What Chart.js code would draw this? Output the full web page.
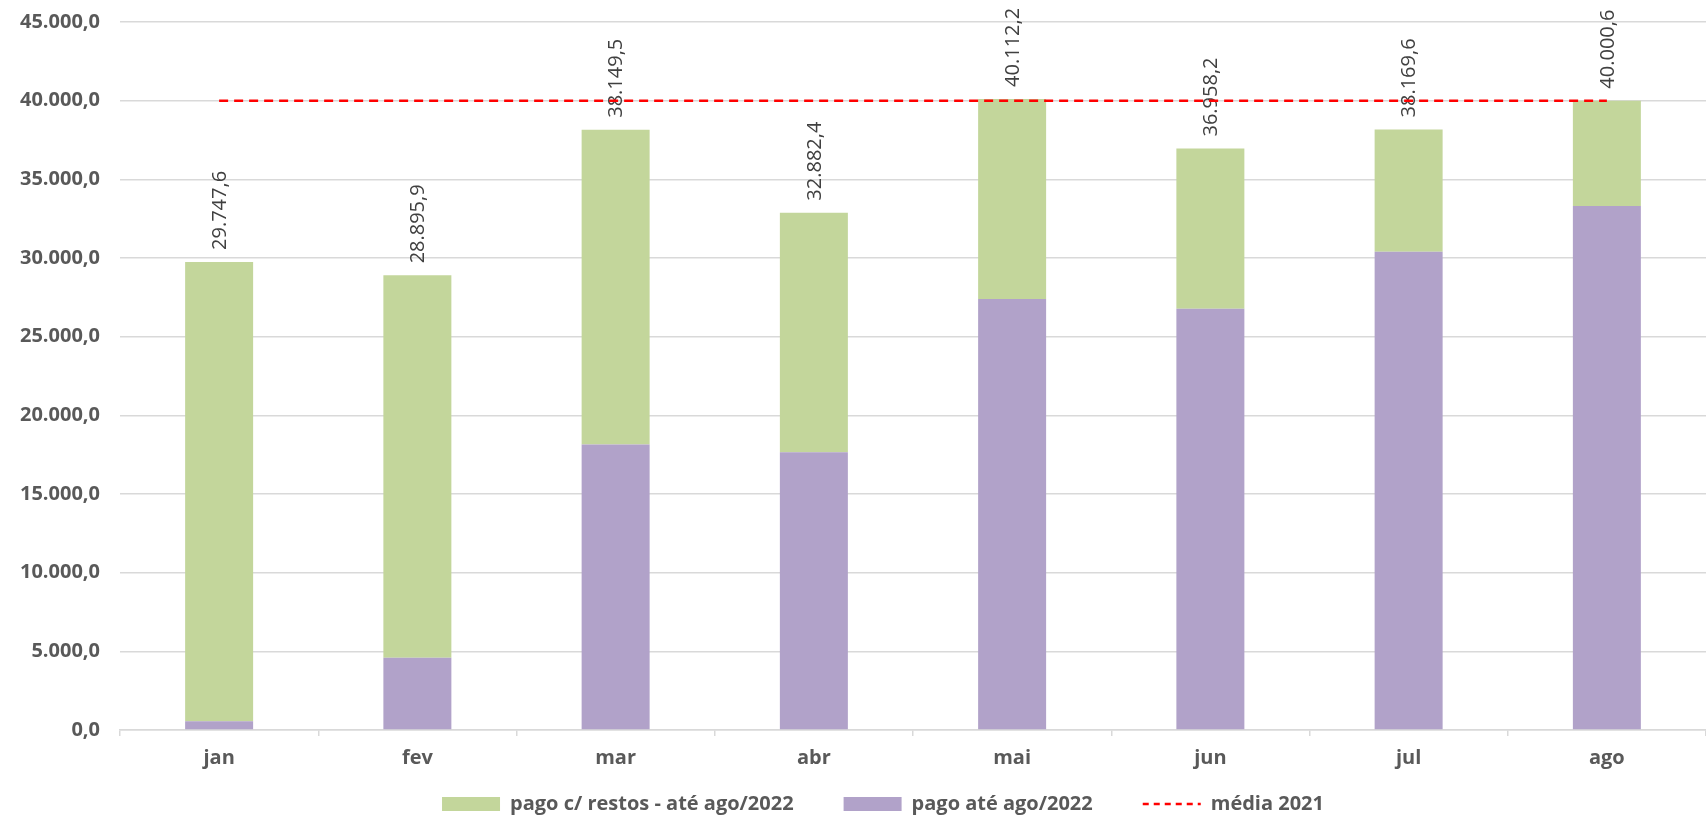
<!DOCTYPE html>
<html lang="pt-br">
<head>
	<meta charset="UTF-8">
	<title>Pago 2022</title>
	<script src="https://cdn.jsdelivr.net/npm/chart.js"></script>
	<style>
		body { margin: 0; background: #fff; }
		.grafico { width: 1706px; height: 824px; position: relative; }
	</style>
</head>
<body>
	<div class="grafico">
		<canvas id="graficoPago"></canvas>
	</div>
	<script>
		// valores
		var meses = ['jan', 'fev', 'mar', 'abr', 'mai', 'jun', 'jul', 'ago'];
		var pagoAte = [560, 4600, 18150, 17650, 27400, 26770, 30400, 33300];
		var pagoRestos = [29187.6, 24295.9, 19999.5, 15232.4, 12712.2, 10188.2, 7769.6, 6700.6];
		var totais = [29747.6, 28895.9, 38149.5, 32882.4, 40112.2, 36958.2, 38169.6, 40000.6];
		var media2021 = [40000, 40000, 40000, 40000, 40000, 40000, 40000, 40000];
		var ticksY = [0, 5000, 10000, 15000, 20000, 25000, 30000, 35000, 40000, 45000];

		Chart.defaults.font.family = "'Open Sans', sans-serif";

		function formatar(v) {
			var partes = Number(v).toFixed(1).split('.');
			var inteiro = partes[0].replace(/\B(?=(\d{3})+(?!\d))/g, '.');
			return inteiro + ',' + partes[1];
		}

		// rótulos de total em cima das barras
		var rotulosTotais = {
			id: 'rotulosTotais',
			beforeDatasetsDraw: function (chart) {
				var ctx = chart.ctx;
				var x = chart.scales.x;
				var y = chart.scales.y;
				ctx.save();
				ctx.fillStyle = '#404040';
				ctx.font = "20px 'Open Sans', sans-serif";
				ctx.textAlign = 'left';
				ctx.textBaseline = 'middle';
				for (var i = 0; i < totais.length; i++) {
					ctx.save();
					ctx.translate(x.getPixelForValue(i) + 1, y.getPixelForValue(totais[i]) - 12);
					ctx.rotate(-Math.PI / 2);
					ctx.fillText(formatar(totais[i]), 0, 0);
					ctx.restore();
				}
				ctx.restore();
			}
		};

		var ordemLegenda = { 1: 0, 0: 1, 2: 2 };

		var ctx = document.getElementById('graficoPago').getContext('2d');
		var graficoPago = new Chart(ctx, {
			type: 'bar',
			data: {
				labels: meses,
				datasets: [{
					label: 'pago até ago/2022',
					data: pagoAte,
					backgroundColor: '#B1A2C9',
					stack: 'pago',
					order: 1
				}, {
					label: 'pago c/ restos - até ago/2022',
					data: pagoRestos,
					backgroundColor: '#C3D69B',
					stack: 'pago',
					order: 1
				}, {
					type: 'line',
					label: 'média 2021',
					data: media2021,
					borderColor: '#FF0000',
					backgroundColor: '#FF0000',
					borderWidth: 2.5,
					borderDash: [9, 6],
					pointRadius: 0,
					fill: false,
					order: 0
				}]
			},
			options: {
				responsive: true,
				maintainAspectRatio: false,
				animation: false,
				layout: { padding: { top: 22, right: 0, left: 0, bottom: 0 } },
				datasets: {
					bar: { categoryPercentage: 1, barPercentage: 0.343 }
				},
				scales: {
					x: {
						stacked: true,
						afterFit: function (scale) { scale.height = 54; },
						grid: { display: true, drawOnChartArea: false, offset: true, tickLength: 6, color: '#D9D9D9', lineWidth: 1.5 },
						border: { display: true, color: '#D9D9D9', width: 1.5 },
						ticks: { color: '#595959', padding: 10, font: { size: 20, weight: 'bold' } }
					},
					y: {
						stacked: true,
						min: 0,
						max: 45000,
						afterFit: function (scale) { scale.width = 120; },
						afterBuildTicks: function (scale) {
							scale.ticks = ticksY.map(function (v) { return { value: v }; });
						},
						grid: { color: '#D9D9D9', lineWidth: 1.5, drawTicks: true, tickLength: 14, tickColor: 'rgba(0,0,0,0)' },
						border: { display: false },
						ticks: {
							color: '#595959',
							padding: 6,
							font: { size: 20, weight: 'bold' },
							callback: function (v) { return formatar(v); }
						}
					}
				},
				plugins: {
					tooltip: { enabled: false },
					legend: {
						position: 'bottom',
						fullSize: false,
						labels: {
							color: '#595959',
							font: { size: 20, weight: 'bold' },
							padding: 10,
							usePointStyle: true,
							pointStyleWidth: 58,
							boxHeight: 14,
							sort: function (a, b) { return ordemLegenda[a.datasetIndex] - ordemLegenda[b.datasetIndex]; },
							generateLabels: function (chart) {
								var itens = Chart.defaults.plugins.legend.labels.generateLabels(chart);
								itens.forEach(function (item) {
									var ds = chart.data.datasets[item.datasetIndex];
									if (ds.type === 'line') {
										item.pointStyle = 'line';
										item.lineWidth = 2.5;
										item.lineDash = [6, 5];
										item.strokeStyle = '#FF0000';
										item.text = item.text + '\u2003\u2003\u2003';
									} else {
										item.pointStyle = 'rect';
										item.lineWidth = 0;
										item.fillStyle = ds.backgroundColor;
										item.text = item.text + '\u2003\u2003';
									}
								});
								return itens;
							}
						}
					}
				}
			},
			plugins: [rotulosTotais]
		});
	</script>
</body>
</html>
